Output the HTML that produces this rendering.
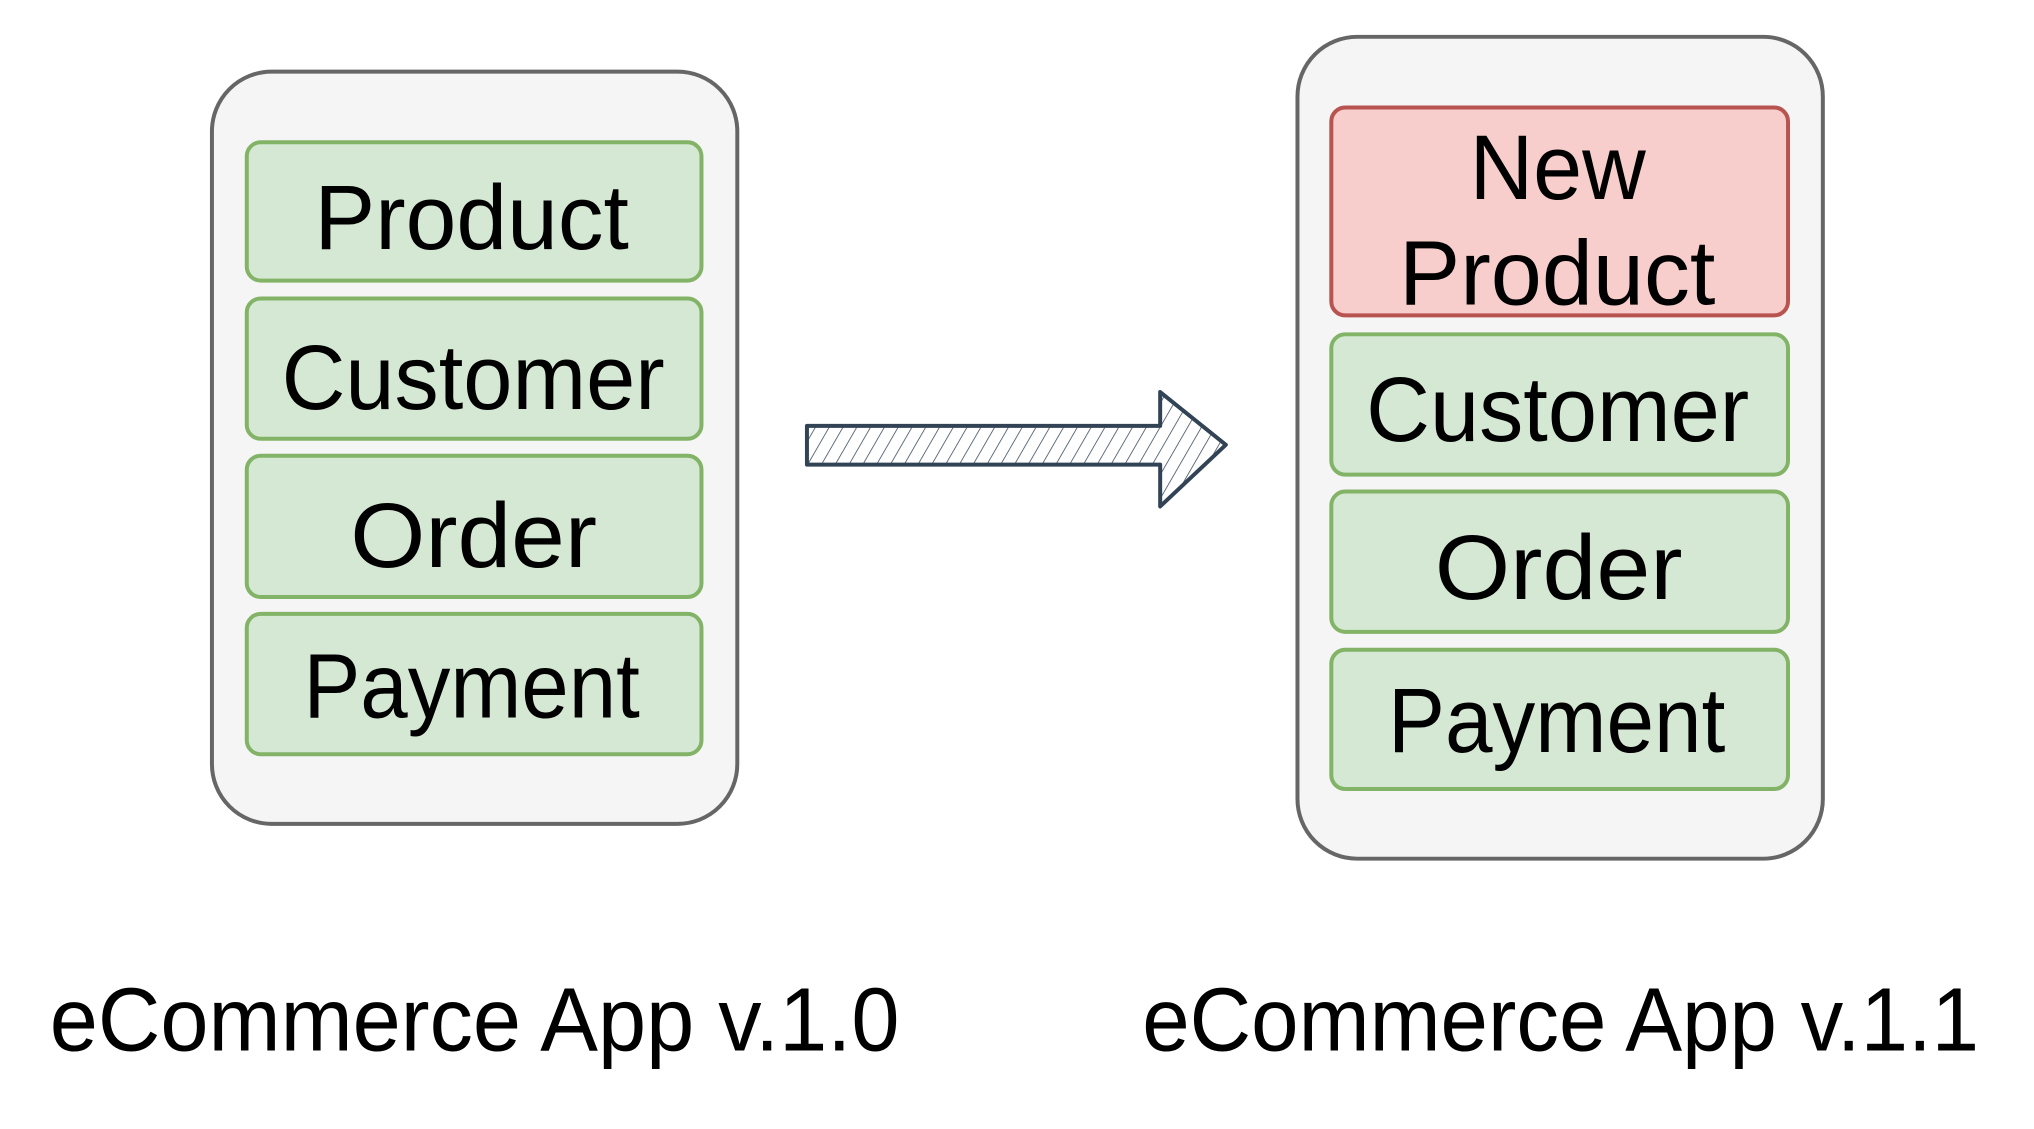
<!DOCTYPE html>
<html><head><meta charset="utf-8"><style>html,body{margin:0;padding:0;background:#fff}</style></head>
<body>
<svg width="2034" height="1124" viewBox="0 0 2034 1124" xmlns="http://www.w3.org/2000/svg" font-family="Liberation Sans, sans-serif">
<defs>
<pattern id="h" width="12" height="12" patternUnits="userSpaceOnUse" patternTransform="rotate(30)">
<line x1="0" y1="0" x2="0" y2="12" stroke="#314354" stroke-width="1.5"/>
</pattern>
</defs>
<g transform="scale(0.995)">
<g stroke="#666" stroke-width="4" fill="#f5f5f5">
<rect x="213" y="72" width="528" height="756" rx="60"/>
<rect x="1304" y="37" width="528" height="826" rx="60"/>
</g>
<g stroke="#82b366" stroke-width="4" fill="#d5e8d4">
<rect x="248" y="143" width="457" height="139" rx="14"/>
<rect x="248" y="300" width="457" height="141" rx="14"/>
<rect x="248" y="458" width="457" height="142" rx="14"/>
<rect x="248" y="617" width="457" height="141" rx="14"/>
<rect x="1338" y="336" width="459" height="141" rx="14"/>
<rect x="1338" y="494" width="459" height="141" rx="14"/>
<rect x="1338" y="653" width="459" height="140" rx="14"/>
</g>
<rect x="1338" y="108" width="459" height="209" rx="14" fill="#f8cecc" stroke="#b85450" stroke-width="4"/>
<path d="M811 428 L1166 428 L1166 394 L1232 447 L1166 509 L1166 467 L811 467 Z" fill="#fff" stroke="none"/>
<path d="M811 428 L1166 428 L1166 394 L1232 447 L1166 509 L1166 467 L811 467 Z" fill="url(#h)" stroke="#314354" stroke-width="4" stroke-linejoin="round"/>
<g fill="#000" font-size="92">
<text x="316" y="250" textLength="316" lengthAdjust="spacingAndGlyphs">Product</text>
<text x="283" y="411" textLength="385" lengthAdjust="spacingAndGlyphs">Customer</text>
<text x="352" y="570" textLength="248" lengthAdjust="spacingAndGlyphs">Order</text>
<text x="305" y="721" textLength="338" lengthAdjust="spacingAndGlyphs">Payment</text>
<text x="1477" y="200" textLength="177" lengthAdjust="spacingAndGlyphs">New</text>
<text x="1406" y="306" textLength="318" lengthAdjust="spacingAndGlyphs">Product</text>
<text x="1373" y="443" textLength="385" lengthAdjust="spacingAndGlyphs">Customer</text>
<text x="1442" y="602" textLength="249" lengthAdjust="spacingAndGlyphs">Order</text>
<text x="1395" y="756" textLength="339" lengthAdjust="spacingAndGlyphs">Payment</text>
</g>
<g fill="#000" font-size="90">
<text x="50" y="1056" textLength="854" lengthAdjust="spacingAndGlyphs">eCommerce App v.1.0</text>
<text x="1148" y="1056" textLength="841" lengthAdjust="spacingAndGlyphs">eCommerce App v.1.1</text>
</g>
</g>
</svg>
</body></html>
